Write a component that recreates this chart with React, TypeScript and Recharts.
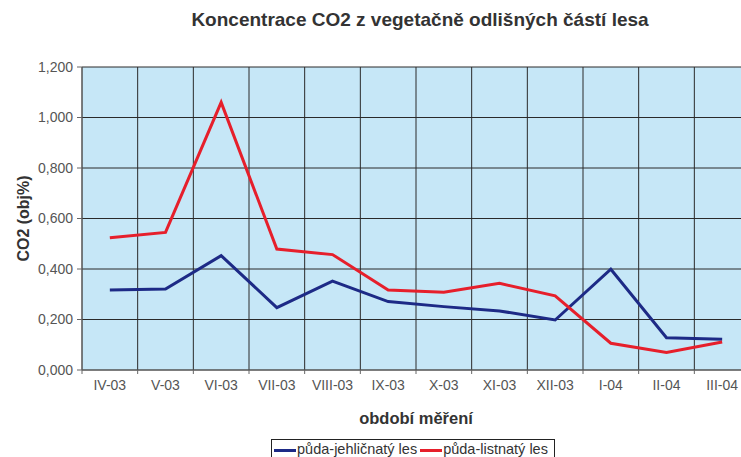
import { LineChart, Line, XAxis, YAxis, CartesianGrid, Legend } from 'recharts';

const MONTHS = ['IV-03', 'V-03', 'VI-03', 'VII-03', 'VIII-03', 'IX-03', 'X-03', 'XI-03', 'XII-03', 'I-04', 'II-04', 'III-04'];
const JEHLICNATY = [0.317, 0.321, 0.453, 0.247, 0.352, 0.271, 0.251, 0.234, 0.198, 0.399, 0.128, 0.122];
const LISTNATY = [0.524, 0.545, 1.06, 0.479, 0.457, 0.317, 0.308, 0.343, 0.294, 0.106, 0.069, 0.111];
const Y_TICKS = [0, 0.2, 0.4, 0.6, 0.8, 1.0, 1.2];
const BOUNDARIES = MONTHS.map((_, i) => i).concat(MONTHS.length);
const CENTERS = MONTHS.map((_, i) => i + 0.5);

const data = MONTHS.map((m, i) => ({
  pos: i + 0.5,
  month: m,
  jehl: JEHLICNATY[i],
  list: LISTNATY[i],
}));

const FONT = '"Liberation Sans", Arial, sans-serif';
const BLUE = '#1d2a86';
const RED = '#e61f2b';

function LegendBox() {
  const items = [
    { name: 'půda-jehličnatý les', color: BLUE },
    { name: 'půda-listnatý les', color: RED },
  ];
  return (
    <div style={{ textAlign: 'center', height: 22 }}>
      <div
        style={{
          display: 'inline-block',
          border: '1px solid #222',
          padding: '1px 3px 4px 2px',
          fontSize: 14.5,
          color: '#333',
          fontFamily: FONT,
          lineHeight: '17px',
          background: '#fff',
          transform: 'translate(38px, 3px)',
        }}
      >
        {items.map((it) => (
          <span key={it.name} style={{ marginRight: 3 }}>
            <span
              style={{
                display: 'inline-block',
                width: 22,
                height: 3,
                background: it.color,
                verticalAlign: 'middle',
                marginRight: 1,
              }}
            />
            {it.name}
          </span>
        ))}
      </div>
    </div>
  );
}

export default function App() {
  return (
    <div style={{ position: 'absolute', left: 0, top: 0, width: 741, height: 457, overflow: 'hidden', background: '#fff', fontFamily: FONT }}>
      <div
        style={{
          position: 'absolute',
          left: 420,
          top: 9,
          transform: 'translateX(-50%)',
          whiteSpace: 'nowrap',
          fontSize: 19,
          fontWeight: 'bold',
          color: '#333',
        }}
      >
        Koncentrace CO2 z vegetačně odlišných částí lesa
      </div>
      <LineChart width={760} height={458} data={data} margin={{ top: 67, right: 10, left: 0, bottom: 0 }}>
        <CartesianGrid xAxisId="grid" stroke="#2a2a2a" fill="#c6e7f7" fillOpacity={1} />
        <XAxis
          xAxisId="grid"
          dataKey="pos"
          type="number"
          domain={[0, MONTHS.length]}
          ticks={BOUNDARIES}
          tickFormatter={() => ''}
          tickSize={4}
          height={6}
          stroke="#666"
          axisLine={{ stroke: '#666' }}
        />
        <XAxis
          xAxisId="lab"
          dataKey="pos"
          type="number"
          domain={[0, MONTHS.length]}
          ticks={CENTERS}
          tickFormatter={(v: number) => MONTHS[Math.floor(v)]}
          axisLine={false}
          tickLine={false}
          tickSize={2}
          height={60}
          interval={0}
          tick={{ fontSize: 14, fill: '#555', fontFamily: FONT }}
          label={{ value: 'období měření', position: 'insideTop', offset: 36, style: { fontSize: 16.5, fontWeight: 'bold', fill: '#333', fontFamily: FONT } }}
        />
        <YAxis
          domain={[0, 1.2]}
          ticks={Y_TICKS}
          width={82}
          tickSize={5}
          tickMargin={4}
          stroke="#666"
          tickFormatter={(v: number) => v.toFixed(3).replace('.', ',')}
          tick={{ fontSize: 14, fill: '#555', fontFamily: FONT }}
          label={{ value: 'CO2 (obj%)', angle: -90, position: 'center', dx: -18, style: { fontSize: 16, fontWeight: 'bold', fill: '#333', fontFamily: FONT } }}
        />
        <Line xAxisId="grid" dataKey="jehl" stroke={BLUE} strokeWidth={3} dot={false} isAnimationActive={false} />
        <Line xAxisId="grid" dataKey="list" stroke={RED} strokeWidth={3} dot={false} isAnimationActive={false} />
        <Legend verticalAlign="bottom" content={<LegendBox />} />
      </LineChart>
    </div>
  );
}
